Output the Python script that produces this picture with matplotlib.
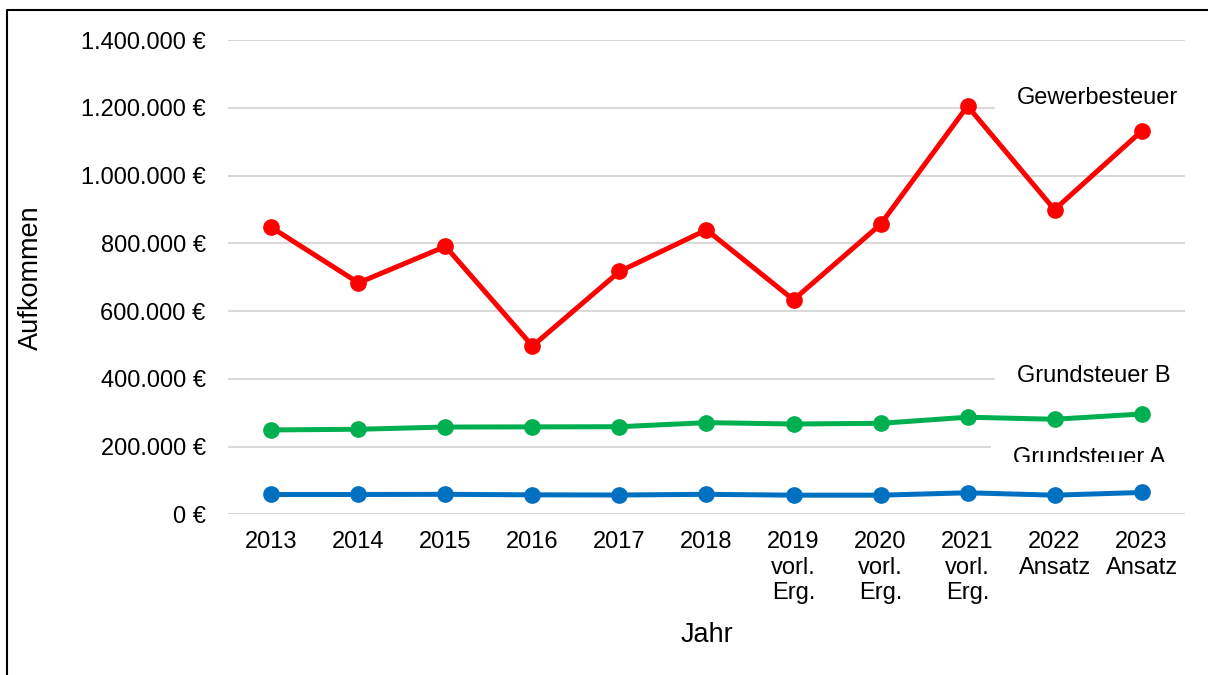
import matplotlib
matplotlib.use("Agg")
import matplotlib.pyplot as plt
import numpy as np
from matplotlib.lines import Line2D
from matplotlib.ticker import FuncFormatter
from matplotlib.transforms import Bbox, TransformedBbox

plt.rcParams['font.family'] = ['Liberation Sans', 'DejaVu Sans']

jahre = ["2013", "2014", "2015", "2016", "2017", "2018",
         "2019\nvorl.\nErg.", "2020\nvorl.\nErg.", "2021\nvorl.\nErg.",
         "2022\nAnsatz", "2023\nAnsatz"]
gewerbesteuer = [847000, 683500, 791000, 497000, 717000, 840000,
                 633500, 856000, 1205000, 899500, 1131000]
grundsteuer_b = [249500, 251500, 258000, 258500, 259000, 271000,
                 267000, 269000, 287000, 281000, 296500]
grundsteuer_a = [59000, 59000, 59500, 58000, 57500, 59500,
                 57000, 57000, 64000, 57000, 65000]

fig = plt.figure(figsize=(12.08, 6.75), dpi=100)
ax = fig.add_axes([0.1887, 0.2378, 0.7923, 0.7029])

x = np.arange(len(jahre))
ax.plot(x, gewerbesteuer, color='#FF0000', lw=3.6, marker='o', ms=11, zorder=3)
ax.plot(x, grundsteuer_b, color='#00B050', lw=3.6, marker='o', ms=11, zorder=3)
ax.plot(x, grundsteuer_a, color='#0070C0', lw=3.6, marker='o', ms=11, zorder=3)

ax.set_xlim(-0.5, len(jahre) - 0.5)
ax.set_ylim(0, 1400000)
ax.set_yticks(np.arange(0, 1400001, 200000))
ax.yaxis.set_major_formatter(FuncFormatter(lambda v, p: f"{v:,.0f} €".replace(',', '.')))
ax.set_xticks(x)
ax.set_xticklabels(jahre, fontsize=17, linespacing=1.2)
ax.tick_params(axis='y', labelsize=17, length=0, pad=16)
ax.tick_params(axis='x', length=0, pad=12)

ax.grid(axis='y', color='#D9D9D9', lw=1.5)
ax.set_axisbelow(True)
for s in ax.spines.values():
    s.set_visible(False)

ax.set_ylabel("Aufkommen", fontsize=19.5)
ax.set_xlabel("Jahr", fontsize=19.5)
ax.yaxis.set_label_coords(-0.192, 0.5)
ax.xaxis.set_label_coords(0.5, -0.227)

box = dict(facecolor='white', edgecolor='none', pad=16)
ax.text(0.8245, 0.878, "Gewerbesteuer", transform=ax.transAxes, fontsize=17,
        va='center', ha='left', bbox=box, zorder=1.5)
ax.text(0.8245, 0.291, "Grundsteuer B", transform=ax.transAxes, fontsize=17,
        va='center', ha='left', bbox=box, zorder=1.5)
t = ax.text(0.8205, 0.120, "Grundsteuer A", transform=ax.transAxes, fontsize=17,
            va='center', ha='left', bbox=box, zorder=1.5)
t.set_clip_box(TransformedBbox(Bbox([[0, 0.1106], [1.5, 1.5]]), ax.transAxes))
t.set_clip_on(True)

# Rahmen um das Diagramm (nur links und oben sichtbar)
rx, ry = 7.5 / 1208, 1 - 10 / 675
fig.lines.append(Line2D([rx, rx, 1.2], [-0.2, ry, ry], transform=fig.transFigure,
                        color='black', lw=1.5))

fig.savefig("out.png", dpi=100)
